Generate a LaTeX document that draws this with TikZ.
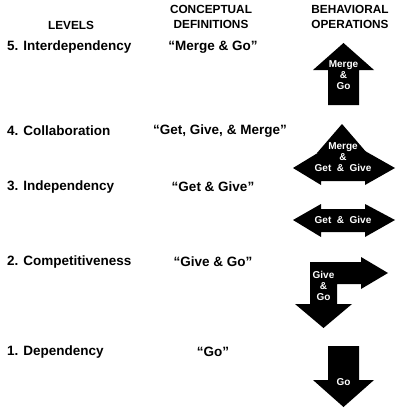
\documentclass[tikz,border=0pt]{standalone}
\usepackage{fontspec}
\setmainfont{Liberation Sans}
\begin{document}
\begin{tikzpicture}[x=1pt,y=-1pt,
  hdr/.style={font=\fontsize{11.8}{15}\selectfont\bfseries, align=center, inner sep=0},
  lvl/.style={font=\fontsize{13.5}{15}\selectfont\bfseries, anchor=west, inner sep=0},
  defn/.style={font=\fontsize{13.5}{15}\selectfont\bfseries, inner sep=0},
  arr/.style={fill=black, draw=none},
  albl/.style={text=white, font=\fontsize{10}{11}\selectfont\bfseries, align=center, inner sep=0}]
\useasboundingbox (0,0) rectangle (400,412);
% headers
\node[hdr] (hlev) at (71,25) {LEVELS};
\node[hdr] (hdef) at (211,17) {CONCEPTUAL\\DEFINITIONS};
\node[hdr] (hbeh) at (350,17) {BEHAVIORAL\\OPERATIONS};
% rows
\node[lvl] (l5) at (7,47) {5. Interdependency};
\node[defn] (d5) at (213,47) {“Merge \& Go”};
\node[lvl] (l4) at (7,131) {4. Collaboration};
\node[defn] (d4) at (220,131) {“Get, Give, \& Merge”};
\node[lvl] (l3) at (7,187) {3. Independency};
\node[defn] (d3) at (213,187) {“Get \& Give”};
\node[lvl] (l2) at (7,262) {2. Competitiveness};
\node[defn] (d2) at (213,262) {“Give \& Go”};
\node[lvl] (l1) at (7,352) {1. Dependency};
\node[defn] (d1) at (213,352) {“Go”};
% arrow 5: up
\fill[arr] (328,105) -- (328,70) -- (313,70) -- (343.5,43) -- (374,70) -- (359,70) -- (359,105) -- cycle;
\node[albl] (a5) at (343.5,75) {Merge\\\&\\Go};
% arrow 4: up + left/right
\fill[arr] (317,153) -- (342,124) -- (367,153) -- cycle;
\fill[arr] (293,168) -- (321,151) -- (365,151) -- (395,168) -- (365,185) -- (365,181) -- (321,181) -- (321,185) -- cycle;
\node[albl] (a4) at (343,157) {Merge\\\&\\Get~~\&~~Give};
% arrow 3: left/right
\fill[arr] (293,220) -- (321,204) -- (321,209) -- (365,209) -- (365,204) -- (395,220) -- (365,237) -- (365,232) -- (321,232) -- (321,237) -- cycle;
\node[albl] (a3) at (343,220) {Get~~\&~~Give};
% arrow 2: right + down
\fill[arr] (310,262) -- (361,262) -- (361,257) -- (388,273) -- (361,289) -- (361,284) -- (337,284) -- (337,304) -- (352,304) -- (323.5,328) -- (295,304) -- (310,304) -- cycle;
\node[albl] (a2) at (323.5,286) {Give\\\&\\Go};
% arrow 1: down
\fill[arr] (328,346) -- (359,346) -- (359,380) -- (374,380) -- (343.5,407) -- (313,380) -- (328,380) -- cycle;
\node[albl] (a1) at (343.5,382) {Go};
\end{tikzpicture}
\end{document}
